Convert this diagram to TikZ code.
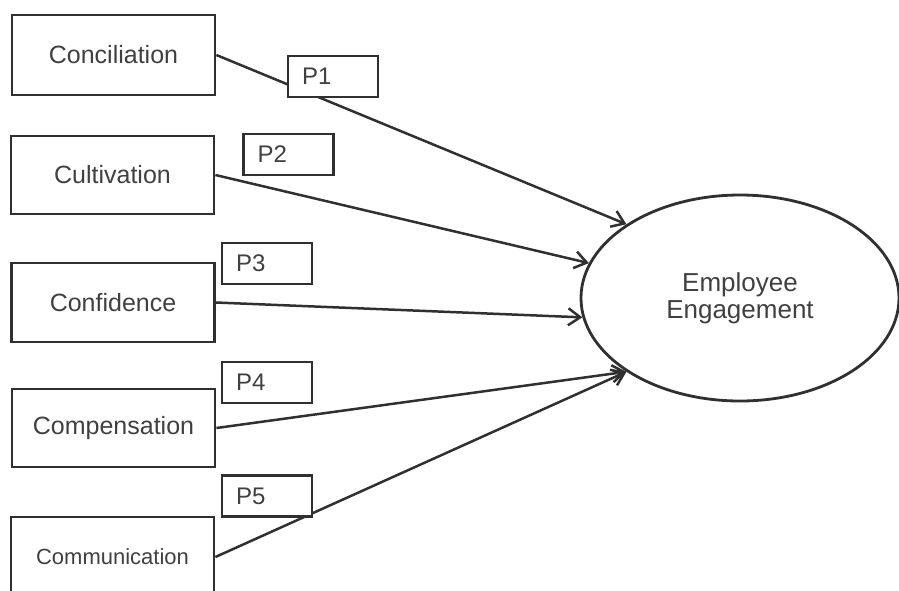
\documentclass[tikz,border=0pt]{standalone}
\usepackage{fontspec}
\setmainfont{Liberation Sans}
\usetikzlibrary{arrows.meta, shapes.geometric}
\definecolor{ink}{HTML}{303030}
\definecolor{txt}{HTML}{404040}

\begin{document}
\begin{tikzpicture}[
  x=1pt, y=-1pt,
  factor/.style={draw=ink, line width=2.8pt, minimum width=203pt, minimum height=80pt,
    text=txt, font=\fontsize{25}{27}\selectfont},
  pbox/.style={draw=ink, line width=2.7pt, fill=white, minimum width=90pt, minimum height=41pt,
    text width=62pt, inner xsep=14pt, align=left, text=txt, font=\fontsize{24}{26}\selectfont},
  link/.style={-{Straight Barb[length=12pt, width=17pt, line width=2.5pt]}, draw=ink, line width=2.5pt}
]
\useasboundingbox (0,0) rectangle (899,590);

\node[factor] (concil) at (113.5,55) {Conciliation};
\node[factor, minimum height=78pt] (cultiv) at (112.5,175) {Cultivation};
\node[factor, minimum height=79pt] (confid) at (113,302.5) {Confidence};
\node[factor, minimum height=78pt] (compen) at (113.5,428) {Compensation};
\node[factor, font=\fontsize{22}{24}\selectfont] (commun) at (112.5,557) {Communication};

\node[draw=ink, line width=2.8pt, ellipse, minimum width=318pt, minimum height=206pt,
  align=center, text=txt, font=\fontsize{26}{27}\selectfont] (engage) at (740,298)
  {Employee\\Engagement};

% propositions
\draw[link] (concil.east) -- (engage.147);
\draw[link] (cultiv.east) -- (engage.167);
\draw[link] (confid.east) -- (engage.187);
\draw[link] (compen.east) -- (engage.213);
\draw[link] (commun.east) -- (engage.213);

\node[pbox] (p1) at (333,76.5) {P1};
\node[pbox] (p2) at (288.5,154.5) {P2};
\node[pbox] (p3) at (267,263.5) {P3};
\node[pbox] (p4) at (267,382.5) {P4};
\node[pbox] (p5) at (267,496) {P5};
\end{tikzpicture}
\end{document}
